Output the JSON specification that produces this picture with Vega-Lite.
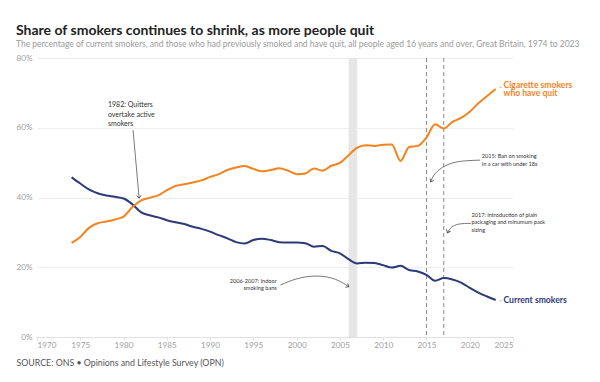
{
  "$schema": "https://vega.github.io/schema/vega-lite/v6.json",
  "width": 476,
  "height": 279,
  "autosize": {"type": "none"},
  "padding": {"left": 37, "top": 58, "right": 87, "bottom": 45},
  "background": "white",
  "config": {
    "font": "Lato",
    "view": {"stroke": null},
    "axis": {"labelFont": "Lato", "titleFont": "Lato"}
  },
  "title": {
    "text": "Share of smokers continues to shrink, as more people quit",
    "subtitle": "The percentage of current smokers, and those who had previously smoked and have quit, all people aged 16 years and over, Great Britain, 1974 to 2023",
    "anchor": "start",
    "frame": "group",
    "dx": -21,
    "offset": 5,
    "limit": 600,
    "fontSize": 14,
    "fontWeight": "bold",
    "color": "#222222",
    "subtitleFontSize": 8.5,
    "subtitleColor": "#9a9a9a",
    "subtitlePadding": 2
  },
  "datasets": {
    "series": [
      {"year": 1974, "pct": 45.8, "s": "smokers"}, {"year": 1975, "pct": 44.0, "s": "smokers"}, {"year": 1976, "pct": 42.3, "s": "smokers"}, {"year": 1977, "pct": 41.2, "s": "smokers"}, {"year": 1978, "pct": 40.6, "s": "smokers"}, {"year": 1979, "pct": 40.2, "s": "smokers"}, {"year": 1980, "pct": 39.7, "s": "smokers"}, {"year": 1981, "pct": 38.1, "s": "smokers"}, {"year": 1982, "pct": 35.8, "s": "smokers"}, {"year": 1983, "pct": 34.9, "s": "smokers"}, {"year": 1984, "pct": 34.3, "s": "smokers"}, {"year": 1985, "pct": 33.5, "s": "smokers"}, {"year": 1986, "pct": 32.9, "s": "smokers"}, {"year": 1987, "pct": 32.4, "s": "smokers"}, {"year": 1988, "pct": 31.6, "s": "smokers"}, {"year": 1989, "pct": 31.0, "s": "smokers"}, {"year": 1990, "pct": 30.2, "s": "smokers"}, {"year": 1991, "pct": 29.2, "s": "smokers"}, {"year": 1992, "pct": 28.3, "s": "smokers"}, {"year": 1993, "pct": 27.2, "s": "smokers"}, {"year": 1994, "pct": 26.8, "s": "smokers"}, {"year": 1995, "pct": 27.8, "s": "smokers"}, {"year": 1996, "pct": 28.2, "s": "smokers"}, {"year": 1997, "pct": 27.8, "s": "smokers"}, {"year": 1998, "pct": 27.2, "s": "smokers"}, {"year": 1999, "pct": 27.1, "s": "smokers"}, {"year": 2000, "pct": 27.1, "s": "smokers"}, {"year": 2001, "pct": 26.9, "s": "smokers"}, {"year": 2002, "pct": 25.9, "s": "smokers"}, {"year": 2003, "pct": 26.1, "s": "smokers"}, {"year": 2004, "pct": 24.7, "s": "smokers"}, {"year": 2005, "pct": 24.0, "s": "smokers"}, {"year": 2006, "pct": 22.3, "s": "smokers"}, {"year": 2007, "pct": 21.1, "s": "smokers"}, {"year": 2008, "pct": 21.3, "s": "smokers"}, {"year": 2009, "pct": 21.2, "s": "smokers"}, {"year": 2010, "pct": 20.6, "s": "smokers"}, {"year": 2011, "pct": 19.9, "s": "smokers"}, {"year": 2012, "pct": 20.4, "s": "smokers"}, {"year": 2013, "pct": 19.2, "s": "smokers"}, {"year": 2014, "pct": 18.8, "s": "smokers"}, {"year": 2015, "pct": 17.8, "s": "smokers"}, {"year": 2016, "pct": 16.1, "s": "smokers"}, {"year": 2017, "pct": 16.9, "s": "smokers"}, {"year": 2018, "pct": 16.5, "s": "smokers"}, {"year": 2019, "pct": 15.6, "s": "smokers"}, {"year": 2020, "pct": 14.1, "s": "smokers"}, {"year": 2021, "pct": 12.7, "s": "smokers"}, {"year": 2022, "pct": 11.6, "s": "smokers"}, {"year": 2023, "pct": 10.6, "s": "smokers"},
      {"year": 1974, "pct": 27.0, "s": "quit"}, {"year": 1975, "pct": 28.7, "s": "quit"}, {"year": 1976, "pct": 31.3, "s": "quit"}, {"year": 1977, "pct": 32.6, "s": "quit"}, {"year": 1978, "pct": 33.1, "s": "quit"}, {"year": 1979, "pct": 33.7, "s": "quit"}, {"year": 1980, "pct": 34.5, "s": "quit"}, {"year": 1981, "pct": 37.2, "s": "quit"}, {"year": 1982, "pct": 39.1, "s": "quit"}, {"year": 1983, "pct": 39.9, "s": "quit"}, {"year": 1984, "pct": 40.6, "s": "quit"}, {"year": 1985, "pct": 42.1, "s": "quit"}, {"year": 1986, "pct": 43.3, "s": "quit"}, {"year": 1987, "pct": 43.8, "s": "quit"}, {"year": 1988, "pct": 44.3, "s": "quit"}, {"year": 1989, "pct": 44.9, "s": "quit"}, {"year": 1990, "pct": 45.9, "s": "quit"}, {"year": 1991, "pct": 46.7, "s": "quit"}, {"year": 1992, "pct": 47.9, "s": "quit"}, {"year": 1993, "pct": 48.6, "s": "quit"}, {"year": 1994, "pct": 49.0, "s": "quit"}, {"year": 1995, "pct": 48.2, "s": "quit"}, {"year": 1996, "pct": 47.5, "s": "quit"}, {"year": 1997, "pct": 47.9, "s": "quit"}, {"year": 1998, "pct": 48.4, "s": "quit"}, {"year": 1999, "pct": 47.7, "s": "quit"}, {"year": 2000, "pct": 46.7, "s": "quit"}, {"year": 2001, "pct": 46.9, "s": "quit"}, {"year": 2002, "pct": 48.3, "s": "quit"}, {"year": 2003, "pct": 47.7, "s": "quit"}, {"year": 2004, "pct": 49.1, "s": "quit"}, {"year": 2005, "pct": 49.9, "s": "quit"}, {"year": 2006, "pct": 52.1, "s": "quit"}, {"year": 2007, "pct": 54.3, "s": "quit"}, {"year": 2008, "pct": 55.0, "s": "quit"}, {"year": 2009, "pct": 54.8, "s": "quit"}, {"year": 2010, "pct": 55.1, "s": "quit"}, {"year": 2011, "pct": 55.2, "s": "quit"}, {"year": 2012, "pct": 50.5, "s": "quit"}, {"year": 2013, "pct": 54.5, "s": "quit"}, {"year": 2014, "pct": 54.8, "s": "quit"}, {"year": 2015, "pct": 57.2, "s": "quit"}, {"year": 2016, "pct": 61.0, "s": "quit"}, {"year": 2017, "pct": 59.8, "s": "quit"}, {"year": 2018, "pct": 61.7, "s": "quit"}, {"year": 2019, "pct": 62.8, "s": "quit"}, {"year": 2020, "pct": 64.6, "s": "quit"}, {"year": 2021, "pct": 67.0, "s": "quit"}, {"year": 2022, "pct": 69.1, "s": "quit"}, {"year": 2023, "pct": 71.1, "s": "quit"}
    ],
    "arrows": [
      {"id": "a1982", "i": 0, "x": 1981.1, "y": 59.3}, {"id": "a1982", "i": 1, "x": 1981.8, "y": 39.8},
      {"id": "aban", "i": 0, "x": 1998.13, "y": 14.9}, {"id": "aban", "i": 1, "x": 2000.06, "y": 16.7}, {"id": "aban", "i": 2, "x": 2002.37, "y": 17.48}, {"id": "aban", "i": 3, "x": 2004.49, "y": 16.53}, {"id": "aban", "i": 4, "x": 2006.03, "y": 14.41},
      {"id": "a2015", "i": 0, "x": 2021.19, "y": 50.72}, {"id": "a2015", "i": 1, "x": 2018.58, "y": 50.23}, {"id": "a2015", "i": 2, "x": 2016.84, "y": 48.62}, {"id": "a2015", "i": 3, "x": 2015.87, "y": 46.42}, {"id": "a2015", "i": 4, "x": 2015.49, "y": 44.5},
      {"id": "a2017", "i": 0, "x": 2020.12, "y": 32.58}, {"id": "a2017", "i": 1, "x": 2018.76, "y": 32.38}, {"id": "a2017", "i": 2, "x": 2017.88, "y": 31.43}, {"id": "a2017", "i": 3, "x": 2017.41, "y": 29.89}
    ],
    "heads": [
      {"x": 1981.8, "y": 39.8, "angle": 85},
      {"x": 2006.03, "y": 14.41, "angle": 30},
      {"x": 2015.49, "y": 44.5, "angle": 117},
      {"x": 2017.41, "y": 29.89, "angle": 116}
    ],
    "note1982": [
      {"x": 1978.2, "y": 67.6, "label": "1982: Quitters\novertake active\nsmokers"}
    ],
    "notesleft": [
      {"x": 2021.4, "y": 52.4, "label": "2015: Ban on smoking\nin a car with under 18s"},
      {"x": 2020.2, "y": 35.5, "label": "2017: Introduction of plain\npackaging and minumum pack\nsizing"}
    ],
    "notesright": [
      {"x": 1997.7, "y": 16.6, "label": "2006-2007: Indoor\nsmoking bans"}
    ],
    "serieslabels": [
      {"x": 2023.9, "y": 73.5, "label": "Cigarette smokers\nwho have quit", "s": "quit"},
      {"x": 2023.9, "y": 11.7, "label": "Current smokers", "s": "smokers"}
    ],
    "leaders": [
      {"x": 2023.45, "x2": 2023.7, "y": 71.6},
      {"x": 2023.45, "x2": 2023.7, "y": 10.4}
    ],
    "band": [{"start": 2006, "end": 2007}],
    "policies": [{"year": 2015}, {"year": 2017}]
  },
  "layer": [
    {
      "data": {"name": "band"},
      "mark": {"type": "rect", "color": "#e6e6e6"},
      "encoding": {
        "x": {"field": "start", "type": "quantitative", "scale": {"domain": [1970, 2025], "nice": false}, "axis": {"values": [1970, 1975, 1980, 1985, 1990, 1995, 2000, 2005, 2010, 2015, 2020, 2025], "format": "d", "grid": false, "domainColor": "#e0e0e0", "tickColor": "#e0e0e0", "tickSize": 3, "labelColor": "#a0a0a0", "labelFontSize": 8.2, "labelPadding": 1, "title": "SOURCE: ONS • Opinions and Lifestyle Survey (OPN)", "titleAnchor": "start", "titleAlign": "left", "titleX": -21, "titleY": 21, "titleFontSize": 8.8, "titleFontWeight": "normal", "titleColor": "#555555"}},
        "x2": {"field": "end"},
        "y": {"datum": 0, "type": "quantitative", "scale": {"domain": [0, 80], "nice": false}, "axis": {"values": [0, 20, 40, 60, 80], "labelExpr": "datum.value + '%'", "grid": true, "gridColor": "#eeeeee", "domain": false, "ticks": false, "labelColor": "#a0a0a0", "labelFontSize": 8.2, "labelPadding": 5, "title": null}},
        "y2": {"datum": 80}
      }
    },
    {
      "data": {"name": "policies"},
      "mark": {"type": "rule", "color": "#8a8a8a", "strokeDash": [4, 3], "strokeWidth": 1},
      "encoding": {"x": {"field": "year", "type": "quantitative"}}
    },
    {
      "data": {"name": "series"},
      "mark": {"type": "line", "interpolate": "monotone", "strokeWidth": 2},
      "encoding": {
        "x": {"field": "year", "type": "quantitative"},
        "y": {"field": "pct", "type": "quantitative"},
        "color": {"field": "s", "type": "nominal", "scale": {"domain": ["smokers", "quit"], "range": ["#2c3a78", "#f5821f"]}, "legend": null}
      }
    },
    {
      "data": {"name": "leaders"},
      "mark": {"type": "rule", "color": "#aaaaaa", "strokeWidth": 0.8},
      "encoding": {
        "x": {"field": "x", "type": "quantitative"},
        "x2": {"field": "x2"},
        "y": {"field": "y", "type": "quantitative"}
      }
    },
    {
      "data": {"name": "arrows"},
      "mark": {"type": "line", "interpolate": "natural", "strokeWidth": 0.8, "color": "#555555"},
      "encoding": {
        "x": {"field": "x", "type": "quantitative"},
        "y": {"field": "y", "type": "quantitative"},
        "detail": {"field": "id"},
        "order": {"field": "i"}
      }
    },
    {
      "data": {"name": "heads"},
      "mark": {"type": "point", "shape": "M -1 -0.8 L 0 0 L -1 0.8", "filled": false, "size": 30, "strokeWidth": 0.9, "color": "#555555", "opacity": 1},
      "encoding": {
        "x": {"field": "x", "type": "quantitative"},
        "y": {"field": "y", "type": "quantitative"},
        "angle": {"field": "angle", "type": "quantitative", "scale": null}
      }
    },
    {
      "data": {"name": "note1982"},
      "mark": {"type": "text", "align": "left", "baseline": "top", "fontSize": 7, "lineHeight": 9.3, "lineBreak": "\n", "color": "#333333"},
      "encoding": {
        "x": {"field": "x", "type": "quantitative"},
        "y": {"field": "y", "type": "quantitative"},
        "text": {"field": "label"}
      }
    },
    {
      "data": {"name": "notesleft"},
      "mark": {"type": "text", "align": "left", "baseline": "top", "fontSize": 5.6, "lineHeight": 7.3, "lineBreak": "\n", "color": "#333333"},
      "encoding": {
        "x": {"field": "x", "type": "quantitative"},
        "y": {"field": "y", "type": "quantitative"},
        "text": {"field": "label"}
      }
    },
    {
      "data": {"name": "notesright"},
      "mark": {"type": "text", "align": "right", "baseline": "top", "fontSize": 5.6, "lineHeight": 7.3, "lineBreak": "\n", "color": "#333333"},
      "encoding": {
        "x": {"field": "x", "type": "quantitative"},
        "y": {"field": "y", "type": "quantitative"},
        "text": {"field": "label"}
      }
    },
    {
      "data": {"name": "serieslabels"},
      "mark": {"type": "text", "align": "left", "baseline": "top", "fontSize": 8.6, "fontWeight": "bold", "lineHeight": 8.5, "lineBreak": "\n"},
      "encoding": {
        "x": {"field": "x", "type": "quantitative"},
        "y": {"field": "y", "type": "quantitative"},
        "text": {"field": "label"},
        "color": {"field": "s", "type": "nominal", "legend": null}
      }
    }
  ]
}
